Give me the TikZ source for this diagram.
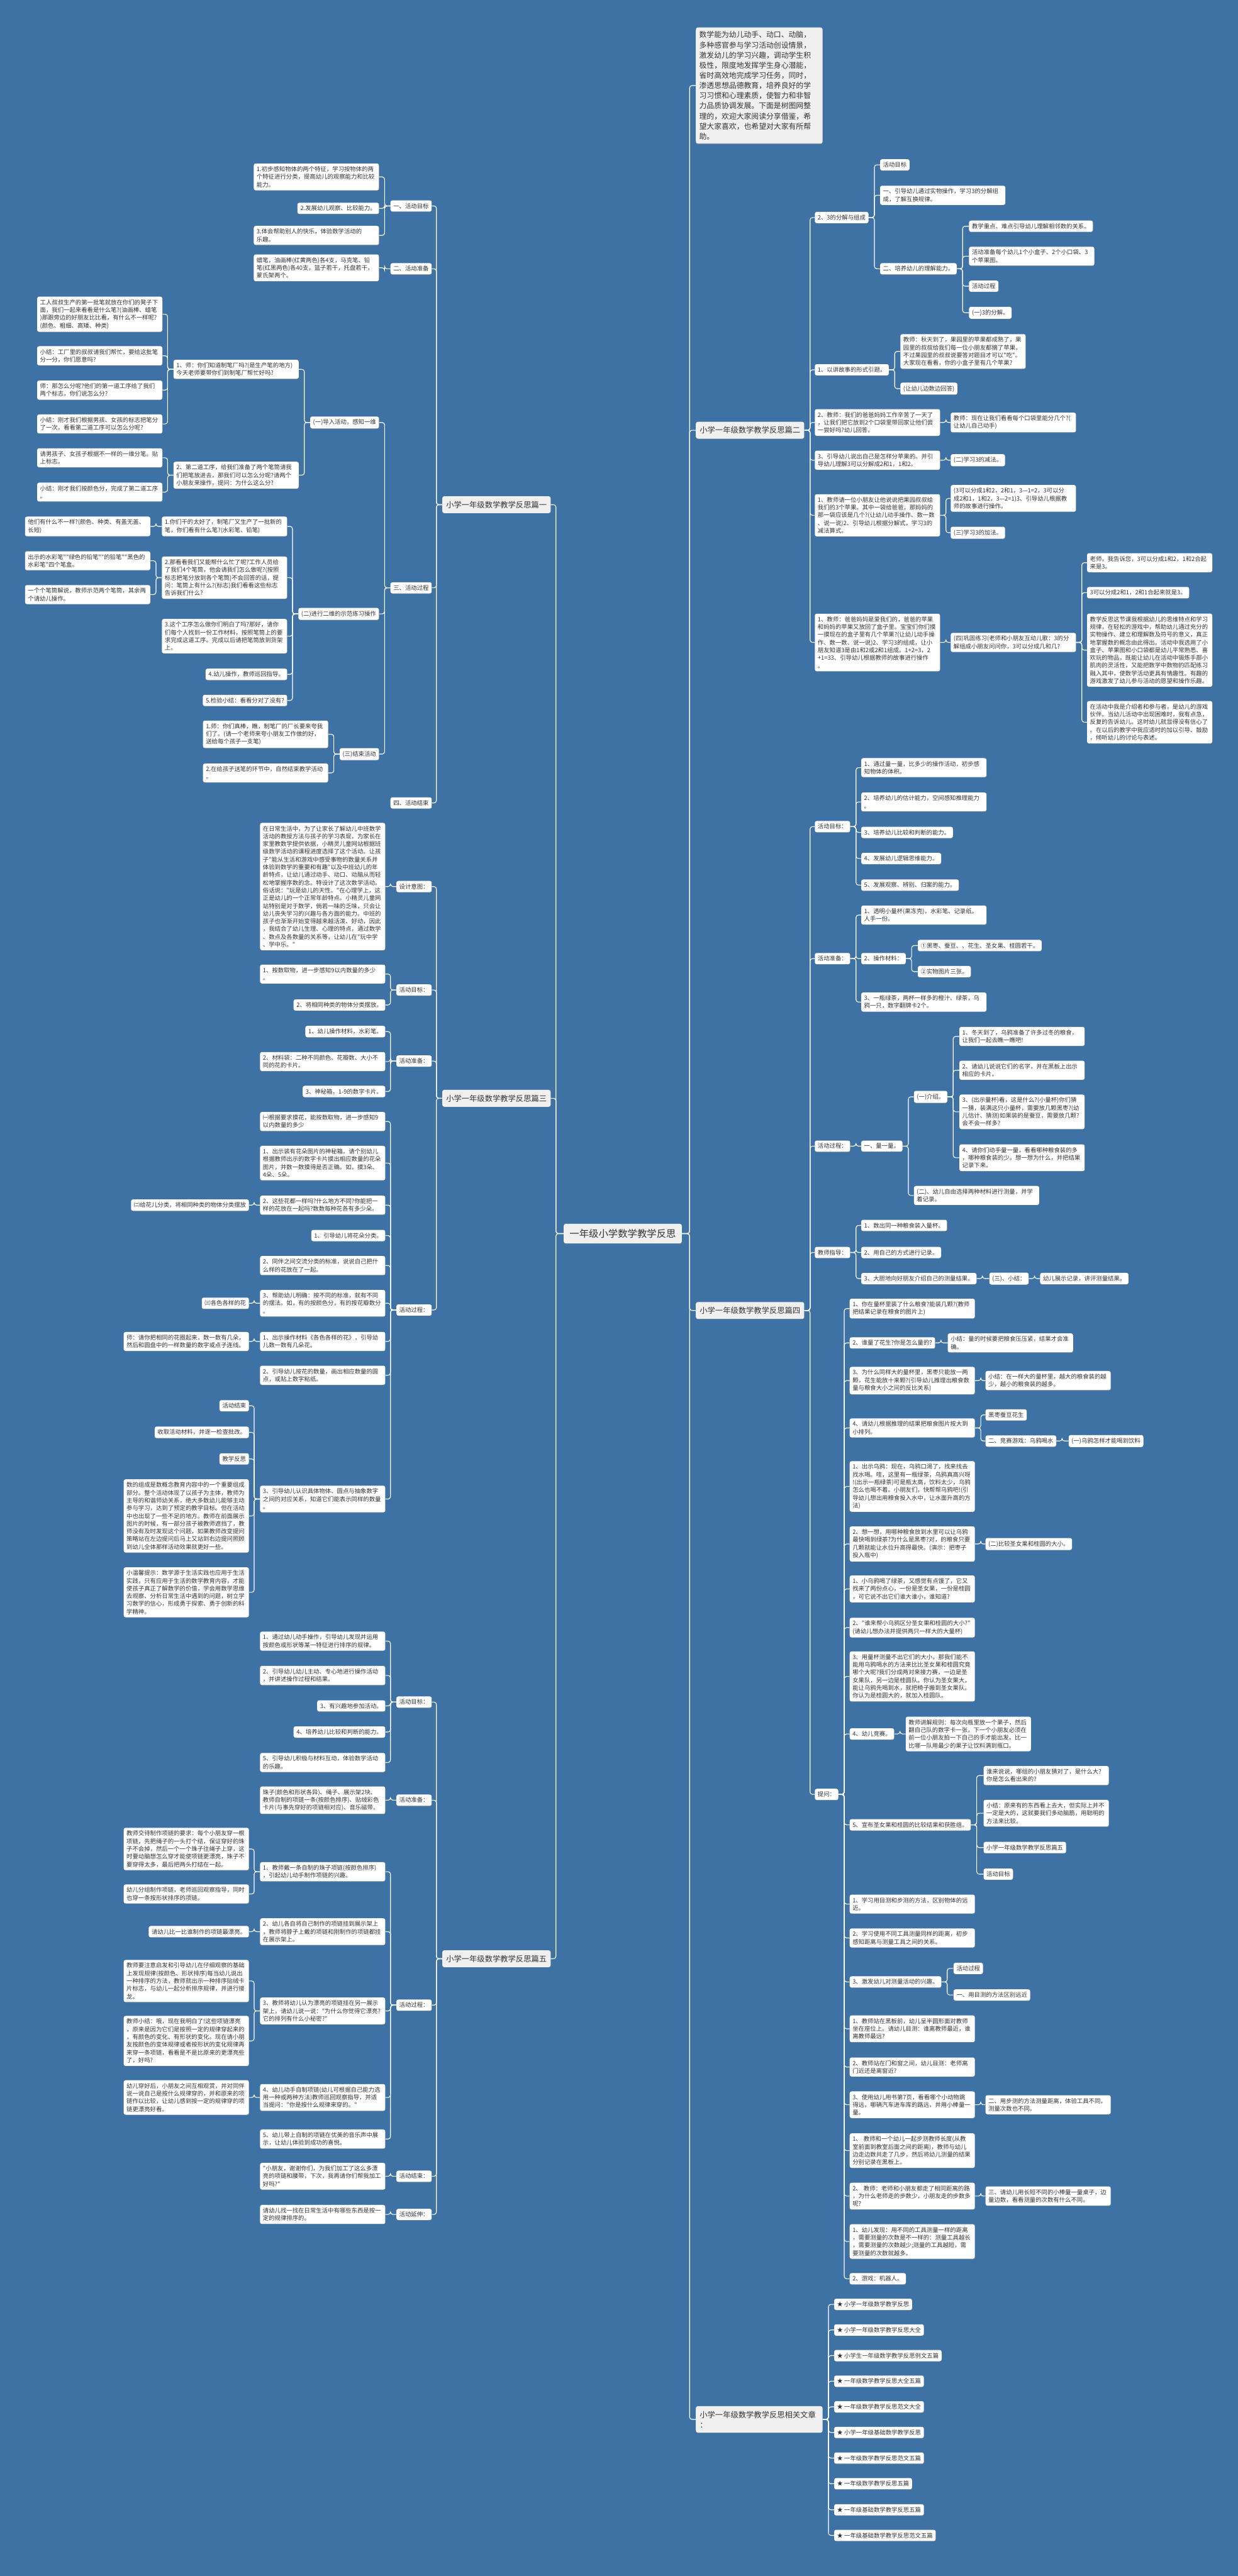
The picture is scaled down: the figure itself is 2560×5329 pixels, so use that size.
\documentclass[tikz,border=0pt]{standalone}
\usepackage{fontspec}
\newfontfamily\cjk{Noto Sans CJK SC}
\usetikzlibrary{shadows}
\definecolor{bg}{HTML}{3E72A4}
\definecolor{txt}{HTML}{333333}
\definecolor{lone}{HTML}{F0F0F0}
\pgfdeclarelayer{bgl}
\pgfsetlayers{bgl,main}
\newcommand\nLB[4]{\node[box,anchor=east] (#1) at (#2,#3) {#4};}
\newcommand\nLW[4]{\node[wbox,anchor=east] (#1) at (#2,#3) {#4};}
\newcommand\nRB[4]{\node[box,anchor=west] (#1) at (#2,#3) {#4};}
\newcommand\nRW[4]{\node[wbox,anchor=west] (#1) at (#2,#3) {#4};}
\newcommand\eL[2]{\draw[conn] (#1.west) -- ++(-12,0) |- (#2.east);}
\newcommand\eR[2]{\draw[conn] (#1.east) -- ++(12,0) |- (#2.west);}
\begin{document}
\begin{tikzpicture}[x=1pt,y=-1pt,
  box/.style={fill=white, rounded corners=4pt, font=\cjk\fontsize{12.2}{16}\selectfont, text=txt, inner xsep=6pt, inner ysep=6pt, align=left, drop shadow={shadow xshift=0.6pt, shadow yshift=-1.6pt, opacity=0.25}},
  wbox/.style={box, text width=247pt},
  lone/.style={box, fill=lone, font=\cjk\fontsize{16}{21}\selectfont, inner xsep=8pt, inner ysep=10pt},
  rootbox/.style={box, fill=lone, font=\cjk\fontsize{20}{24}\selectfont, inner xsep=12pt, inner ysep=11pt},
  conn/.style={draw=white, line width=1.5pt, rounded corners=5pt}]
\useasboundingbox (0,0) rectangle (2560,5329);
\begin{pgfonlayer}{bgl}
\fill[bg] (0,0) rectangle (2560,5329);
\end{pgfonlayer}

% root
\node[rootbox] (root) at (1288,2552) {一年级小学数学教学反思};

% ===== LEFT =====
\node[lone,anchor=east] (a1) at (1139,1044) {小学一年级数学教学反思篇一};
\node[lone,anchor=east] (a3) at (1139,2272) {小学一年级数学教学反思篇三};
\node[lone,anchor=east] (a5) at (1139,4052) {小学一年级数学教学反思篇五};

% pian 1
\nLB{a1g}{893}{426}{一、活动目标}
\nLB{a1p}{893}{556}{二、活动准备}
\nLB{a1c}{893}{1216}{三、活动过程}
\nLB{a1e}{893}{1661}{四、活动结束}
\nLW{a1g1}{784}{366}{1.初步感知物体的两个特征，学习按物体的两\\个特征进行分类，提高幼儿的观察能力和比较\\能力。}
\nLB{a1g2}{784}{431}{2.发展幼儿观察、比较能力。}
\nLW{a1g3}{784}{487}{3.体会帮助别人的快乐，体验数学活动的\\乐趣。}
\nLW{a1p1}{784}{554}{蜡笔，油画棒(红黄两色)各4支，马克笔、铅\\笔(红黑两色)各40支，篮子若干，托盘若干，\\蒙氏架两个。}
\nLB{c1}{784}{874}{(一)导入活动，感知一维}
\nLB{c2}{784}{1270}{(二)进行二维的示范练习操作}
\nLB{c3}{784}{1560}{(三)结束活动}
\nLW{c11}{618}{764}{1、师：你们知道制笔厂吗?(是生产笔的地方)\\今天老师要带你们到制笔厂帮忙好吗?}
\nLW{c12}{618}{983}{2、第二道工序，给我们准备了两个笔筒请我\\们把笔放进去，那我们可以怎么分呢?请两个\\小朋友来操作，提问：为什么这么分?}
\nLW{c111}{336}{650}{工人叔叔生产的第一批笔就放在你们的凳子下\\面，我们一起来看看是什么笔?(油画棒、蜡笔\\)那跟旁边的好朋友比比看，有什么不一样呢?\\(颜色、粗细、高矮、种类)}
\nLW{c112}{336}{736}{小结：工厂里的叔叔请我们帮忙，要给这批笔\\分一分，你们愿意吗?}
\nLW{c113}{336}{807}{师：那怎么分呢?他们的第一道工序给了我们\\两个标志，你们说怎么分?}
\nLW{c114}{336}{877}{小结：刚才我们根据男孩、女孩的标志把笔分\\了一次。看看第二道工序可以怎么分呢?}
\nLW{c121}{336}{947}{请男孩子、女孩子根据不一样的一维分笔。贴\\上标志。}
\nLW{c122}{336}{1018}{小结：刚才我们按颜色分，完成了第二道工序\\。}
\nLW{c21}{594}{1089}{1.你们干的太好了，制笔厂又生产了一批新的\\笔，你们看有什么笔?(水彩笔、铅笔)}
\nLW{c22}{594}{1195}{2.那看看我们又能帮什么忙了呢?工作人员给\\了我们4个笔筒，他会请我们怎么做呢?(按照\\标志把笔分放到各个笔筒)不会回答的话，提\\问：笔筒上有什么?(标志)我们看看这些标志\\告诉我们什么?}
\nLW{c23}{594}{1316}{3.这个工序怎么做你们明白了吗?那好，请你\\们每个人找到一份工作材料，按照笔筒上的要\\求完成这道工序。完成以后请把笔筒放到货架\\上。}
\nLB{c24}{594}{1395}{4.幼儿操作，教师巡回指导。}
\nLB{c25}{594}{1449}{5.检验小结：看看分对了没有?}
\nLW{c211}{311}{1089}{他们有什么不一样?(颜色、种类、有盖无盖、\\长短)}
\nLW{c221}{311}{1160}{出示的水彩笔""绿色的铅笔""的铅笔""黑色的\\水彩笔"四个笔盒。}
\nLW{c222}{311}{1230}{一个个笔筒解说，教师示范两个笔筒，其余两\\个请幼儿操作。}
\nLW{c31}{679}{1519}{1.师：你们真棒，瞧，制笔厂的厂长要来夸我\\们了。(请一个老师来夸小朋友工作做的好，\\送给每个孩子一支笔)}
\nLW{c32}{679}{1599}{2.在给孩子送笔的环节中，自然结束教学活动\\。}

% pian 3
\nLB{b1}{893}{1834}{设计意图：}
\nLB{b2}{893}{2048}{活动目标：}
\nLB{b3}{893}{2195}{活动准备：}
\nLB{b4}{893}{2710}{活动过程：}
\nLW{b11}{797}{1834}{在日常生活中，为了让家长了解幼儿中班数学\\活动的教授方法与孩子的学习表现，为家长在\\家里教数学提供依据，小精灵儿童网站根据班\\级数学活动的课程进度选择了这个活动。让孩\\子"能从生活和游戏中感受事物的数量关系并\\体验到数学的重要和有趣"以及中班幼儿的年\\龄特点，让幼儿通过动手、动口、动脑从而轻\\松地掌握序数的念。特设计了这次数学活动。\\俗话说："玩是幼儿的天性。"在心理学上，这\\正是幼儿的一个正常年龄特点。小精灵儿童网\\站特别是对于数学，倘若一味的乏味，只会让\\幼儿丧失学习的兴趣与各方面的能力。中班的\\孩子也渐渐开始变得越来越活泼、好动，因此\\，我结合了幼儿生理、心理的特点，通过数学\\、数点及各数量的关系等，让幼儿在"玩中学\\、学中乐。"}
\nLW{b21}{797}{2015}{1、按数取物，进一步感知9以内数量的多少\\。}
\nLB{b22}{797}{2079}{2、将相同种类的物体分类摆放。}
\nLB{b31}{797}{2134}{1、幼儿操作材料，水彩笔。}
\nLW{b32}{797}{2196}{2、材料袋：二种不同颜色、花瓣数、大小不\\同的花的卡片。}
\nLB{b33}{797}{2258}{3、神秘箱，1-9的数字卡片。}
\nLW{b41}{797}{2320}{㈠根据要求摸花，能按数取物，进一步感知9\\以内数量的多少}
\nLW{b42}{797}{2406}{1、出示装有花朵图片的神秘箱。请个别幼儿\\根据教师出示的数字卡片摸出相应数量的花朵\\图片，并数一数摸得是否正确。如，摸3朵、\\4朵、5朵。}
\nLW{b43}{797}{2493}{2、这些花都一样吗?什么地方不同?你能把一\\样的花放在一起吗?数数每种花各有多少朵。}
\nLB{b44}{797}{2556}{1、引导幼儿将花朵分类。}
\nLW{b45}{797}{2618}{2、同伴之间交流分类的标准，说说自己把什\\么样的花放在了一起。}
\nLW{b46}{797}{2696}{3、帮助幼儿明确：按不同的标准，就有不同\\的摆法。如，有的按颜色分，有的按花瓣数分\\。}
\nLW{b47}{797}{2775}{1、出示操作材料《各色各样的花》，引导幼\\儿数一数有几朵花。}
\nLW{b48}{797}{2845}{2、引导幼儿按花的数量，画出相应数量的圆\\点，或贴上数字粘纸。}
\nLW{b49}{797}{3101}{3、引导幼儿认识具体物体、圆点与抽象数字\\之间的对应关系，知道它们能表示同样的数量\\。}
\nLB{b431}{515}{2493}{㈡给花儿分类，将相同种类的物体分类摆放}
\nLB{b461}{515}{2696}{㈢各色各样的花}
\nLW{b471}{515}{2775}{师：请你把相同的花圈起来，数一数有几朵，\\然后和圆盘中的一样数量的数字或点子连线。}
\nLB{b491}{515}{2908}{活动结束}
\nLB{b492}{515}{2963}{收取活动材料，并逐一检查批改。}
\nLB{b493}{515}{3018}{教学反思}
\nLW{b494}{515}{3136}{数的组成是数概念教育内容中的一个重要组成\\部分。整个活动体现了以孩子为主体，教师为\\主导的和谐师幼关系，绝大多数幼儿能够主动\\参与学习，达到了预定的教学目标。但在活动\\中也出现了一些不足的地方。教师在前面展示\\图片的时候，有一部分孩子被教师遮挡了，教\\师没有及时发现这个问题，如果教师改变提问\\策略站在左边提问后马上又站到右边提问照顾\\到幼儿全体那样活动效果就更好一些。}
\nLW{b495}{515}{3294}{小温馨提示：数学源于生活实践也应用于生活\\实践，只有应用于生活的数学教育内容，才能\\使孩子真正了解数学的价值，学会用数学思维\\去观察、分析日常生活中遇到的问题，树立学\\习数学的信心，形成勇于探索、勇于创新的科\\学精神。}

% pian 5
\nLB{d1}{893}{3521}{活动目标：}
\nLB{d2}{893}{3724}{活动准备：}
\nLB{d3}{893}{4148}{活动过程：}
\nLB{d4}{893}{4502}{活动结束：}
\nLB{d5}{893}{4581}{活动延伸：}
\nLW{d11}{797}{3395}{1、通过幼儿动手操作，引导幼儿发现并运用\\按颜色或形状等某一特征进行排序的规律。}
\nLW{d12}{797}{3466}{2、引导幼儿幼儿主动、专心地进行操作活动\\，并讲述操作过程和结果。}
\nLB{d13}{797}{3529}{3、有兴趣地参加活动。}
\nLB{d14}{797}{3583}{4、培养幼儿比较和判断的能力。}
\nLW{d15}{797}{3646}{5、引导幼儿积极与材料互动，体验数学活动\\的乐趣。}
\nLW{d21}{797}{3724}{珠子(颜色和形状各异)、绳子、展示架2块、\\教师自制的项链一条(按颜色排序)、贴绒彩色\\卡片(与事先穿好的项链相对应)、音乐磁带。}
\nLW{d31}{797}{3872}{1、教师戴一条自制的珠子项链(按颜色排序)\\，引起幼儿动手制作项链的兴趣。}
\nLW{d32}{797}{3996}{2、幼儿各自将自己制作的项链挂到展示架上\\，教师将脖子上戴的项链和刚制作的项链都挂\\在展示架上。}
\nLW{d33}{797}{4160}{3、教师将幼儿认为漂亮的项链挂在另一展示\\架上，请幼儿说一说："为什么你觉得它漂亮?\\它的排列有什么小秘密?"}
\nLW{d34}{797}{4339}{4、幼儿动手自制项链(幼儿可根据自己能力选\\用一种或两种方法)教师巡回观察指导，并适\\当提问："你是按什么规律来穿的。"}
\nLW{d35}{797}{4425}{5、幼儿带上自制的项链在优美的音乐声中展\\示，让幼儿体验到成功的喜悦。}
\nLW{d311}{515}{3825}{教师交待制作项链的要求：每个小朋友穿一根\\项链，先把绳子的一头打个结，保证穿好的珠\\子不会掉，然后一个一个珠子往绳子上穿，这\\时要动脑想怎么穿才能使项链更漂亮，珠子不\\要穿得太多，最后把两头打结在一起。}
\nLW{d312}{515}{3918}{幼儿分组制作项链，老师巡回观察指导，同时\\也穿一条按形状排序的项链。}
\nLB{d321}{515}{3996}{请幼儿比一比谁制作的项链最漂亮。}
\nLW{d331}{515}{4098}{教师要注意启发和引导幼儿在仔细观察的基础\\上发现规律(按颜色、形状排序)每当幼儿说出\\一种排序的方法，教师就出示一种排序贴绒卡\\片标志，与幼儿一起分析排序规律，并进行接\\龙。}
\nLW{d332}{515}{4222}{教师小结：哦，现在我明白了!这些项链漂亮\\，原来是因为它们是按照一定的规律穿起来的\\，有颜色的变化、有形状的变化。现在请小朋\\友按颜色的变体规律或者按形状的变化规律再\\来穿一条项链，看看是不是比原来的更漂亮些\\了，好吗?}
\nLW{d341}{515}{4339}{幼儿穿好后，小朋友之间互相观赏，并对同伴\\说一说自己是按什么规律穿的，并和原来的项\\链作以比较，让幼儿感到按一定的规律穿的项\\链更漂亮好看。}
\nLW{d41}{797}{4502}{"小朋友，谢谢你们，为我们加工了这么多漂\\亮的项链和腰带，下次，我再请你们帮我加工\\好吗?"}
\nLW{d51}{797}{4581}{请幼儿找一找在日常生活中有哪些东西是按一\\定的规律排序的。}

% ===== RIGHT =====
\node[box, fill=lone, anchor=west, text width=248pt, inner xsep=7pt, inner ysep=8pt, font=\cjk\fontsize{15.4}{21}\selectfont] (r0) at (1439,177) {数学能为幼儿动手、动口、动脑，\\多种感官参与学习活动创设情景，\\激发幼儿的学习兴趣，调动学生积\\极性，限度地发挥学生身心潜能，\\省时高效地完成学习任务，同时，\\渗透思想品德教育，培养良好的学\\习习惯和心理素质，使智力和非智\\力品质协调发展。下面是树图网整\\理的，欢迎大家阅读分享借鉴，希\\望大家喜欢，也希望对大家有所帮\\助。};
\node[lone,anchor=west] (r2) at (1439,890) {小学一年级数学教学反思篇二};
\node[lone,anchor=west] (r4) at (1439,2711) {小学一年级数学教学反思篇四};
\node[lone,anchor=west, text width=246pt] (r6) at (1439,5005) {小学一年级数学教学反思相关文章\\：};

% pian 2
\nRB{e1}{1685}{450}{2、3的分解与组成}
\nRB{e2}{1685}{765}{1、以讲故事的形式引题。}
\nRW{e3}{1685}{874}{2、教师：我们的爸爸妈妈工作辛苦了一天了\\，让我们把它放到2个口袋里带回家让他们尝\\一尝好吗?幼儿回答。}
\nRW{e4}{1685}{952}{3、引导幼儿说出自己是怎样分苹果的。并引\\导幼儿理解3可以分解成2和1，1和2。}
\nRW{e5}{1685}{1066}{1、教师请一位小朋友让他说说把果园叔叔给\\我们的3个苹果。其中一袋给爸爸，那妈妈的\\那一袋应该是几个?(让幼儿动手操作、数一数\\、说一说)2、引导幼儿根据分解式，学习3的\\减法算式。}
\nRW{e6}{1685}{1329}{1、教师：爸爸妈妈是爱我们的，爸爸的苹果\\和妈妈的苹果又放回了盒子里。宝宝们你们摸\\一摸现在的盒子里有几个苹果?(让幼儿动手操\\作、数一数、说一说)2、学习3的组成，让小\\朋友知道3是由1和2或2和1组成。1+2=3，2\\+1=33、引导幼儿根据教师的故事进行操作\\。}
\nRB{e11}{1820}{341}{活动目标}
\nRW{e12}{1820}{404}{一、引导幼儿通过实物操作，学习3的分解组\\成，了解互换规律。}
\nRB{e13}{1820}{556}{二、培养幼儿的理解能力。}
\nRB{e131}{2004}{468}{教学重点、难点引导幼儿理解相邻数的关系。}
\nRW{e132}{2004}{530}{活动准备每个幼儿1个小盒子、2个小口袋、3\\个苹果图。}
\nRB{e133}{2004}{592}{活动过程}
\nRB{e134}{2004}{647}{(一)3的分解。}
\nRW{e21}{1862}{727}{教师：秋天到了，果园里的苹果都成熟了，果\\园里的叔叔给我们每一位小朋友都摘了苹果，\\不过果园里的叔叔说要答对题目才可以"吃"。\\大家现在看看，你的小盒子里有几个苹果?}
\nRB{e22}{1862}{804}{(让幼儿边数边回答)}
\nRW{e31}{1966}{874}{教师：现在让我们看看每个口袋里能分几个?(\\让幼儿自己动手)}
\nRB{e41}{1966}{952}{(二)学习3的减法。}
\nRW{e51}{1966}{1031}{(3可以分成1和2，2和1，3—1=2，3可以分\\成2和1，1和2，3—2=1)3、引导幼儿根据教\\师的故事进行操作。}
\nRB{e52}{1966}{1102}{(三)学习3的加法。}
\nRW{e61}{1966}{1329}{(四)巩固练习(老师和小朋友互动儿歌：3的分\\解组成小朋友问问你，3可以分成几和几?}
\nRW{e611}{2248}{1164}{老师，我告诉您，3可以分成1和2，1和2合起\\来是3。}
\nRB{e612}{2248}{1226}{3可以分成2和1，2和1合起来就是3。}
\nRW{e613}{2248}{1345}{教学反思这节课我根据幼儿的思维特点和学习\\规律，在轻松的游戏中，帮助幼儿通过充分的\\实物操作、建立和理解数及符号的意义，真正\\地掌握数的概念由此得出。活动中我选用了小\\盒子、苹果图和小口袋都是幼儿平常熟悉、喜\\欢玩的物品，既能让幼儿在活动中锻炼手部小\\肌肉的灵活性，又能把数学中数物的匹配练习\\融入其中，使数学活动更具有情趣性。有趣的\\游戏激发了幼儿参与活动的愿望和操作乐趣。}
\nRW{e614}{2248}{1494}{在活动中我是介绍者和参与者，是幼儿的游戏\\伙伴。当幼儿活动中出现困难时，我有点急，\\反复的告诉幼儿。这时幼儿就显得没有信心了\\。在以后的教学中我应适时的加以引导、鼓励\\，倾听幼儿的讨论与表述。}

% pian 4
\nRB{f1}{1685}{1710}{活动目标：}
\nRB{f2}{1685}{1983}{活动准备：}
\nRB{f3}{1685}{2371}{活动过程：}
\nRB{f4}{1685}{2591}{教师指导：}
\nRB{f5}{1685}{3712}{提问：}
\nRW{f11}{1781}{1588}{1、通过量一量，比多少的操作活动，初步感\\知物体的体积。}
\nRW{f12}{1781}{1659}{2、培养幼儿的估计能力，空间感知推理能力\\。}
\nRB{f13}{1781}{1722}{3、培养幼儿比较和判断的能力。}
\nRB{f14}{1781}{1776}{4、发展幼儿逻辑思维能力。}
\nRB{f15}{1781}{1831}{5、发展观察、辨别、归案的能力。}
\nRW{f21}{1781}{1893}{1、透明小量杯(果冻壳)，水彩笔、记录纸。\\人手一份。}
\nRB{f22}{1781}{1983}{2、操作材料：}
\nRW{f23}{1781}{2073}{3、一瓶绿茶，两杯一样多的橙汁、绿茶，乌\\鸦一只，数字翻牌卡2个。}
\nRB{f221}{1898}{1956}{①黑枣、蚕豆、、花生、圣女果、桂圆若干。}
\nRB{f222}{1898}{2010}{②实物图片三张。}
\nRB{f31}{1781}{2371}{一、量一量。}
\nRB{f311}{1890}{2269}{(一)介绍。}
\nRW{f312}{1890}{2473}{(二)、幼儿自由选择两种材料进行测量，并学\\着记录。}
\nRW{f3111}{1984}{2144}{1、冬天到了，乌鸦准备了许多过冬的粮食，\\让我们一起去瞧一瞧吧!}
\nRW{f3112}{1984}{2214}{2、请幼儿说说它们的名字，并在黑板上出示\\相应的卡片。}
\nRW{f3113}{1984}{2300}{3、(出示量杯)看，这是什么?(小量杯)你们猜\\一猜，装满这只小量杯，需要放几颗黑枣?(幼\\儿估计、猜测)如果装的是蚕豆，需要放几颗?\\会不会一样多?}
\nRW{f3114}{1984}{2395}{4、请你们动手量一量，看看哪种粮食装的多\\，哪种粮食装的少。想一想为什么，并把结果\\记录下来。}
\nRB{f41}{1781}{2535}{1、数出同一种粮食装入量杯。}
\nRB{f42}{1781}{2591}{2、用自己的方式进行记录。}
\nRB{f43}{1781}{2645}{3、大胆地向好朋友介绍自己的测量结果。}
\nRB{f431}{2046}{2645}{(三)、小结：}
\nRB{f4311}{2151}{2645}{幼儿展示记录，讲评测量结果。}

\nRW{g1}{1757}{2707}{1、你在量杯里装了什么粮食?能装几颗?(教师\\把结果记录在粮食的图片上)}
\nRB{g2}{1757}{2778}{2、谁量了花生?你是怎么量的?}
\nRW{g21}{1960}{2778}{小结：量的时候要把粮食压压紧，结果才会准\\确。}
\nRW{g3}{1757}{2856}{3、为什么同样大的量杯里，黑枣只能放一两\\颗，花生能放十来颗?(引导幼儿推理出粮食数\\量与粮食大小之间的反比关系)}
\nRW{g31}{2038}{2856}{小结：在一样大的量杯里，越大的粮食装的越\\少，越小的粮食装的越多。}
\nRW{g4}{1757}{2954}{4、请幼儿根据推理的结果把粮食图片按大到\\小排列。}
\nRB{g41}{2038}{2927}{黑枣蚕豆花生}
\nRB{g42}{2038}{2981}{二、竞赛游戏：乌鸦喝水}
\nRB{g421}{2210}{2981}{(一)乌鸦怎样才能喝到饮料}
\nRW{g5}{1757}{3075}{1、出示乌鸦：现在，乌鸦口渴了，找来找去\\找水喝。哇，这里有一瓶绿茶，乌鸦真高兴呀\\!(出示一瓶绿茶)可是瓶太高，饮料太少，乌鸦\\怎么也喝不着。小朋友们，快帮帮乌鸦吧!(引\\导幼儿想出用粮食投入水中，让水面升高的方\\法)}
\nRW{g6}{1757}{3194}{2、想一想，用哪种粮食放到水里可以让乌鸦\\最快喝到绿茶?为什么是黑枣?对，的粮食只要\\几颗就能让水位升高得最快。(演示：把枣子\\投入瓶中)}
\nRB{g61}{2038}{3194}{(二)比较圣女果和桂圆的大小。}
\nRW{g7}{1757}{3287}{1、小乌鸦喝了绿茶，又感觉有点饿了，它又\\找来了两份点心，一份是圣女果，一份是桂圆\\，可它说不出它们谁大谁小，谁知道?}
\nRW{g8}{1757}{3367}{2、"谁来帮小乌鸦区分圣女果和桂圆的大小?"\\(请幼儿想办法并提供两只一样大的大量杯)}
\nRW{g9}{1757}{3468}{3、用量杯测量不出它们的大小，那我们能不\\能用乌鸦喝水的方法来比比圣女果和桂圆究竟\\哪个大呢?我们分成两对来接力赛，一边是圣\\女果队，另一边是桂圆队。你认为圣女果大，\\能让乌鸦先喝到水，就把椅子搬到圣女果队。\\你认为是桂圆大的，就加入桂圆队。}
\nRB{g10}{1757}{3587}{4、幼儿竞赛。}
\nRW{g101}{1873}{3587}{教师讲解规则：每次向瓶里放一个果子，然后\\翻自己队的数字卡一张，下一个小朋友必须在\\前一位小朋友拍一下自己的手才能出发。比一\\比哪一队用最少的果子让饮料满到瓶口。}
\nRB{g11}{1757}{3775}{5、宣布圣女果和桂圆的比较结果和获胜组。}
\nRW{g111}{2034}{3673}{谁来说说，哪组的小朋友猜对了，是什么大?\\你是怎么看出来的?}
\nRW{g112}{2034}{3751}{小结：原来有的东西看上去大，但实际上并不\\一定是大的，这就要我们多动脑筋，用聪明的\\方法来比较。}
\nRB{g113}{2034}{3822}{小学一年级数学教学反思篇五}
\nRB{g114}{2034}{3877}{活动目标}
\nRW{g12}{1757}{3939}{1、学习用目测和步测的方法，区别物体的远\\近。}
\nRW{g13}{1757}{4009}{2、学习使用不同工具测量同样的距离，初步\\感知距离与测量工具之间的关系。}
\nRB{g14}{1757}{4100}{3、激发幼儿对测量活动的兴趣。}
\nRB{g141}{1972}{4072}{活动过程}
\nRB{g142}{1972}{4127}{一、用目测的方法区别远近}
\nRW{g15}{1757}{4197}{1、教师站在黑板前，幼儿呈半圆形面对教师\\坐在座位上。请幼儿目测：谁离教师最近，谁\\离教师最远?}
\nRW{g16}{1757}{4276}{2、教师站在门和窗之间，幼儿目测：老师离\\门近还是离窗近?}
\nRW{g17}{1757}{4354}{3、使用幼儿用书第7页，看看哪个小动物跳\\得远，哪辆汽车进车库的路远，并用小棒量一\\量。}
\nRW{g171}{2038}{4354}{二、用步测的方法测量距离，体验工具不同，\\测量次数也不同。}
\nRW{g18}{1757}{4449}{1、 教师和一个幼儿一起步测教师长度(从教\\室前面到教室后面之间的距离)，教师与幼儿\\边走边数共走了几步，然后将幼儿测量的结果\\分别记录在黑板上。}
\nRW{g19}{1757}{4543}{2、 教师：老师和小朋友都走了相同距离的路\\，为什么老师走的步数少，小朋友走的步数多\\呢?}
\nRW{g191}{2038}{4543}{三、请幼儿用长短不同的小棒量一量桌子，边\\量边数，看看测量的次数有什么不同。}
\nRW{g20}{1757}{4637}{1、幼儿发现：用不同的工具测量一样的距离\\，需要测量的次数是不一样的：测量工具越长\\，需要测量的次数越少;测量的工具越短，需\\要测量的次数就越多。}
\nRB{g22}{1757}{4714}{2、游戏：机器人。}

% related
\nRB{s1}{1725}{4767}{★ 小学一年级数学教学反思}
\nRB{s2}{1725}{4820}{★ 小学一年级数学教学反思大全}
\nRB{s3}{1725}{4873}{★ 小学生一年级数学教学反思例文五篇}
\nRB{s4}{1725}{4926}{★ 一年级数学教学反思大全五篇}
\nRB{s5}{1725}{4979}{★ 一年级数学教学反思范文大全}
\nRB{s6}{1725}{5032}{★ 小学一年级基础数学教学反思}
\nRB{s7}{1725}{5085}{★ 一年级数学教学反思范文五篇}
\nRB{s8}{1725}{5138}{★ 一年级数学教学反思五篇}
\nRB{s9}{1725}{5192}{★ 一年级基础数学教学反思五篇}
\nRB{s10}{1725}{5245}{★ 一年级基础数学教学反思范文五篇}

% ===== EDGES =====
\begin{pgfonlayer}{bgl}
\foreach \c in {a1,a3,a5} {\draw[conn] (root.west) -- ++(-16,0) |- (\c.east);}
\foreach \c in {r0,r2,r4,r6} {\draw[conn] (root.east) -- ++(16,0) |- (\c.west);}
\foreach \c in {a1g,a1p,a1c,a1e} {\eL{a1}{\c}}
\foreach \c in {a1g1,a1g2,a1g3} {\eL{a1g}{\c}}
\eL{a1p}{a1p1}
\foreach \c in {c1,c2,c3} {\eL{a1c}{\c}}
\foreach \c in {c11,c12} {\eL{c1}{\c}}
\foreach \c in {c111,c112,c113,c114} {\eL{c11}{\c}}
\foreach \c in {c121,c122} {\eL{c12}{\c}}
\foreach \c in {c21,c22,c23,c24,c25} {\eL{c2}{\c}}
\eL{c21}{c211}
\foreach \c in {c221,c222} {\eL{c22}{\c}}
\foreach \c in {c31,c32} {\eL{c3}{\c}}
\foreach \c in {b1,b2,b3,b4} {\eL{a3}{\c}}
\eL{b1}{b11}
\foreach \c in {b21,b22} {\eL{b2}{\c}}
\foreach \c in {b31,b32,b33} {\eL{b3}{\c}}
\foreach \c in {b41,b42,b43,b44,b45,b46,b47,b48,b49} {\eL{b4}{\c}}
\eL{b43}{b431}
\eL{b46}{b461}
\eL{b47}{b471}
\foreach \c in {b491,b492,b493,b494,b495} {\eL{b49}{\c}}
\foreach \c in {d1,d2,d3,d4,d5} {\eL{a5}{\c}}
\foreach \c in {d11,d12,d13,d14,d15} {\eL{d1}{\c}}
\eL{d2}{d21}
\foreach \c in {d31,d32,d33,d34,d35} {\eL{d3}{\c}}
\foreach \c in {d311,d312} {\eL{d31}{\c}}
\eL{d32}{d321}
\foreach \c in {d331,d332} {\eL{d33}{\c}}
\eL{d34}{d341}
\eL{d4}{d41}
\eL{d5}{d51}
% right
\foreach \c in {e1,e2,e3,e4,e5,e6} {\eR{r2}{\c}}
\foreach \c in {e11,e12,e13} {\eR{e1}{\c}}
\foreach \c in {e131,e132,e133,e134} {\eR{e13}{\c}}
\foreach \c in {e21,e22} {\eR{e2}{\c}}
\eR{e3}{e31}
\eR{e4}{e41}
\foreach \c in {e51,e52} {\eR{e5}{\c}}
\eR{e6}{e61}
\foreach \c in {e611,e612,e613,e614} {\eR{e61}{\c}}
\foreach \c in {f1,f2,f3,f4,f5} {\eR{r4}{\c}}
\foreach \c in {f11,f12,f13,f14,f15} {\eR{f1}{\c}}
\foreach \c in {f21,f22,f23} {\eR{f2}{\c}}
\foreach \c in {f221,f222} {\eR{f22}{\c}}
\eR{f3}{f31}
\foreach \c in {f311,f312} {\eR{f31}{\c}}
\foreach \c in {f3111,f3112,f3113,f3114} {\eR{f311}{\c}}
\foreach \c in {f41,f42,f43} {\eR{f4}{\c}}
\eR{f43}{f431}
\eR{f431}{f4311}
\foreach \c in {g1,g2,g3,g4,g5,g6,g7,g8,g9,g10,g11,g12,g13,g14,g15,g16,g17,g18,g19,g20,g22} {\eR{f5}{\c}}
\eR{g2}{g21}
\eR{g3}{g31}
\foreach \c in {g41,g42} {\eR{g4}{\c}}
\eR{g42}{g421}
\eR{g6}{g61}
\eR{g10}{g101}
\foreach \c in {g111,g112,g113,g114} {\eR{g11}{\c}}
\foreach \c in {g141,g142} {\eR{g14}{\c}}
\eR{g17}{g171}
\eR{g19}{g191}
\foreach \c in {s1,s2,s3,s4,s5,s6,s7,s8,s9,s10} {\eR{r6}{\c}}
\end{pgfonlayer}
\end{tikzpicture}
\end{document}
